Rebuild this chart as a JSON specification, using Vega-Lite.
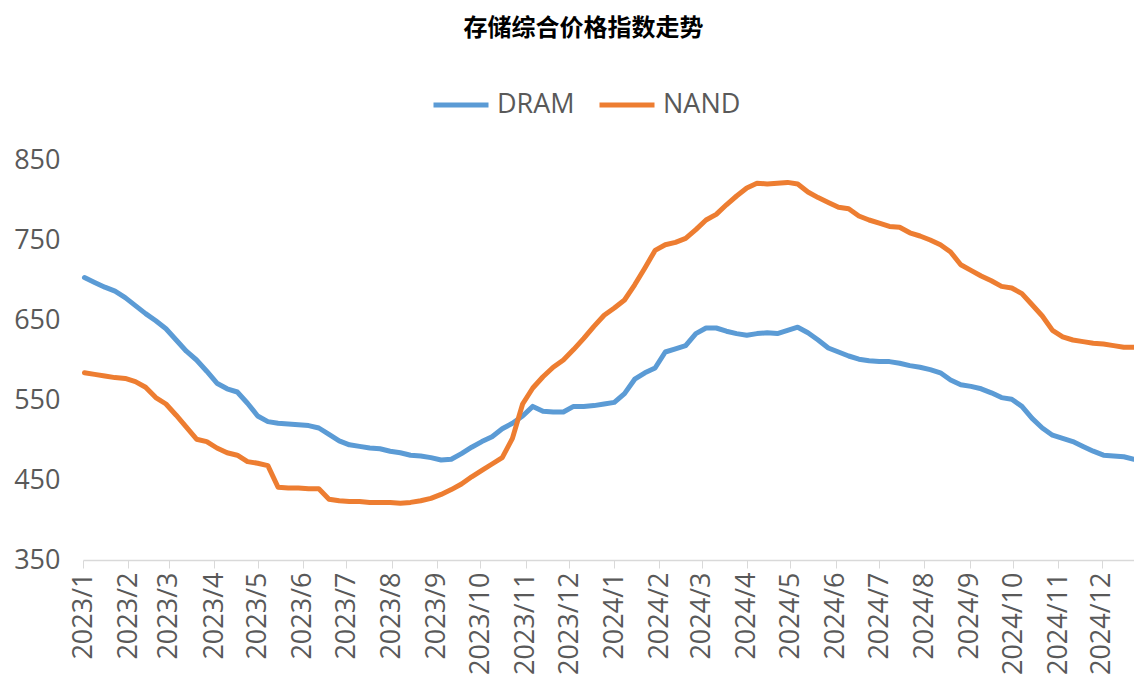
{
  "$schema": "https://vega.github.io/schema/vega-lite/v6.json",
  "autosize": {"type": "none"},
  "width": 1051,
  "height": 400,
  "padding": {"left": 83, "top": 160, "right": 0, "bottom": 120},
  "background": "white",
  "title": {
    "text": "存储综合价格指数走势",
    "font": "Noto Sans CJK SC",
    "fontSize": 24,
    "fontWeight": "bold",
    "color": "#000000",
    "anchor": "middle",
    "frame": "group",
    "dx": -25,
    "offset": 34
  },
  "config": {
    "view": {"stroke": null},
    "font": "Open Sans"
  },
  "data": {
    "values": [
      {"date": "2023-01-02", "DRAM": 703, "NAND": 584},
      {"date": "2023-01-09", "DRAM": 697, "NAND": 582},
      {"date": "2023-01-16", "DRAM": 691, "NAND": 580},
      {"date": "2023-01-23", "DRAM": 686, "NAND": 578},
      {"date": "2023-01-30", "DRAM": 678, "NAND": 577},
      {"date": "2023-02-06", "DRAM": 668, "NAND": 573},
      {"date": "2023-02-13", "DRAM": 658, "NAND": 566},
      {"date": "2023-02-20", "DRAM": 649, "NAND": 553},
      {"date": "2023-02-27", "DRAM": 639, "NAND": 545},
      {"date": "2023-03-06", "DRAM": 625, "NAND": 531},
      {"date": "2023-03-13", "DRAM": 611, "NAND": 516},
      {"date": "2023-03-20", "DRAM": 600, "NAND": 501},
      {"date": "2023-03-27", "DRAM": 586, "NAND": 498},
      {"date": "2023-04-03", "DRAM": 571, "NAND": 490},
      {"date": "2023-04-10", "DRAM": 564, "NAND": 484},
      {"date": "2023-04-17", "DRAM": 560, "NAND": 481},
      {"date": "2023-04-24", "DRAM": 546, "NAND": 473},
      {"date": "2023-05-01", "DRAM": 530, "NAND": 471},
      {"date": "2023-05-08", "DRAM": 523, "NAND": 468},
      {"date": "2023-05-15", "DRAM": 521, "NAND": 441},
      {"date": "2023-05-22", "DRAM": 520, "NAND": 440},
      {"date": "2023-05-29", "DRAM": 519, "NAND": 440},
      {"date": "2023-06-05", "DRAM": 518, "NAND": 439},
      {"date": "2023-06-12", "DRAM": 515, "NAND": 439},
      {"date": "2023-06-19", "DRAM": 507, "NAND": 426},
      {"date": "2023-06-26", "DRAM": 499, "NAND": 424},
      {"date": "2023-07-03", "DRAM": 494, "NAND": 423},
      {"date": "2023-07-10", "DRAM": 492, "NAND": 423},
      {"date": "2023-07-17", "DRAM": 490, "NAND": 422},
      {"date": "2023-07-24", "DRAM": 489, "NAND": 422},
      {"date": "2023-07-31", "DRAM": 486, "NAND": 422},
      {"date": "2023-08-07", "DRAM": 484, "NAND": 421},
      {"date": "2023-08-14", "DRAM": 481, "NAND": 422},
      {"date": "2023-08-21", "DRAM": 480, "NAND": 424},
      {"date": "2023-08-28", "DRAM": 478, "NAND": 427},
      {"date": "2023-09-04", "DRAM": 475, "NAND": 432},
      {"date": "2023-09-11", "DRAM": 476, "NAND": 438},
      {"date": "2023-09-18", "DRAM": 483, "NAND": 445},
      {"date": "2023-09-25", "DRAM": 491, "NAND": 454},
      {"date": "2023-10-02", "DRAM": 498, "NAND": 462},
      {"date": "2023-10-09", "DRAM": 504, "NAND": 470},
      {"date": "2023-10-16", "DRAM": 514, "NAND": 478},
      {"date": "2023-10-23", "DRAM": 521, "NAND": 502},
      {"date": "2023-10-30", "DRAM": 530, "NAND": 545},
      {"date": "2023-11-06", "DRAM": 542, "NAND": 565},
      {"date": "2023-11-13", "DRAM": 536, "NAND": 579},
      {"date": "2023-11-20", "DRAM": 535, "NAND": 591},
      {"date": "2023-11-27", "DRAM": 535, "NAND": 600},
      {"date": "2023-12-04", "DRAM": 542, "NAND": 613},
      {"date": "2023-12-11", "DRAM": 542, "NAND": 627},
      {"date": "2023-12-18", "DRAM": 543, "NAND": 642},
      {"date": "2023-12-25", "DRAM": 545, "NAND": 656},
      {"date": "2024-01-01", "DRAM": 547, "NAND": 665},
      {"date": "2024-01-08", "DRAM": 558, "NAND": 675},
      {"date": "2024-01-15", "DRAM": 576, "NAND": 694},
      {"date": "2024-01-22", "DRAM": 584, "NAND": 715},
      {"date": "2024-01-29", "DRAM": 590, "NAND": 737},
      {"date": "2024-02-05", "DRAM": 610, "NAND": 744},
      {"date": "2024-02-12", "DRAM": 614, "NAND": 747},
      {"date": "2024-02-19", "DRAM": 618, "NAND": 752},
      {"date": "2024-02-26", "DRAM": 633, "NAND": 763},
      {"date": "2024-03-04", "DRAM": 640, "NAND": 775},
      {"date": "2024-03-11", "DRAM": 640, "NAND": 782},
      {"date": "2024-03-18", "DRAM": 636, "NAND": 794},
      {"date": "2024-03-25", "DRAM": 633, "NAND": 805},
      {"date": "2024-04-01", "DRAM": 631, "NAND": 815},
      {"date": "2024-04-08", "DRAM": 633, "NAND": 821},
      {"date": "2024-04-15", "DRAM": 634, "NAND": 820},
      {"date": "2024-04-22", "DRAM": 633, "NAND": 821},
      {"date": "2024-04-29", "DRAM": 637, "NAND": 822},
      {"date": "2024-05-06", "DRAM": 641, "NAND": 820},
      {"date": "2024-05-13", "DRAM": 634, "NAND": 810},
      {"date": "2024-05-20", "DRAM": 625, "NAND": 803},
      {"date": "2024-05-27", "DRAM": 615, "NAND": 797},
      {"date": "2024-06-03", "DRAM": 610, "NAND": 791},
      {"date": "2024-06-10", "DRAM": 605, "NAND": 789},
      {"date": "2024-06-17", "DRAM": 601, "NAND": 780},
      {"date": "2024-06-24", "DRAM": 599, "NAND": 775},
      {"date": "2024-07-01", "DRAM": 598, "NAND": 771},
      {"date": "2024-07-08", "DRAM": 598, "NAND": 767},
      {"date": "2024-07-15", "DRAM": 596, "NAND": 766},
      {"date": "2024-07-22", "DRAM": 593, "NAND": 759},
      {"date": "2024-07-29", "DRAM": 591, "NAND": 755},
      {"date": "2024-08-05", "DRAM": 588, "NAND": 750},
      {"date": "2024-08-12", "DRAM": 584, "NAND": 744},
      {"date": "2024-08-19", "DRAM": 575, "NAND": 735},
      {"date": "2024-08-26", "DRAM": 569, "NAND": 719},
      {"date": "2024-09-02", "DRAM": 567, "NAND": 712},
      {"date": "2024-09-09", "DRAM": 564, "NAND": 705},
      {"date": "2024-09-16", "DRAM": 559, "NAND": 699},
      {"date": "2024-09-23", "DRAM": 553, "NAND": 692},
      {"date": "2024-09-30", "DRAM": 551, "NAND": 690},
      {"date": "2024-10-07", "DRAM": 542, "NAND": 683},
      {"date": "2024-10-14", "DRAM": 527, "NAND": 669},
      {"date": "2024-10-21", "DRAM": 515, "NAND": 655},
      {"date": "2024-10-28", "DRAM": 506, "NAND": 637},
      {"date": "2024-11-04", "DRAM": 502, "NAND": 629},
      {"date": "2024-11-11", "DRAM": 498, "NAND": 625},
      {"date": "2024-11-18", "DRAM": 492, "NAND": 623},
      {"date": "2024-11-25", "DRAM": 486, "NAND": 621},
      {"date": "2024-12-02", "DRAM": 481, "NAND": 620},
      {"date": "2024-12-09", "DRAM": 480, "NAND": 618},
      {"date": "2024-12-16", "DRAM": 479, "NAND": 616},
      {"date": "2024-12-23", "DRAM": 476, "NAND": 616}
    ]
  },
  "transform": [
    {"fold": ["DRAM", "NAND"], "as": ["series", "value"]}
  ],
  "mark": {"type": "line", "strokeWidth": 5, "strokeCap": "round", "strokeJoin": "round"},
  "encoding": {
    "x": {
      "field": "date",
      "type": "temporal",
      "scale": {
        "type": "utc",
        "domain": ["2023-01-01", "2024-12-23"]
      },
      "axis": {
        "title": null,
        "labelExpr": "utcFormat(datum.value, '%Y/%-m')",
        "tickCount": {"interval": "month", "step": 1},
        "grid": false,
        "domainColor": "#D9D9D9",
        "domainWidth": 1.5,
        "tickColor": "#D9D9D9",
        "tickSize": 8,
        "tickWidth": 1,
        "labelAngle": 270,
        "labelAlign": "right",
        "labelBaseline": "middle",
        "labelFontSize": 27,
        "labelColor": "#595959",
        "labelPadding": 4,
        "labelFont": "Open Sans",
        "labelOverlap": false,
        "labelFlush": false
      }
    },
    "y": {
      "field": "value",
      "type": "quantitative",
      "scale": {"domain": [350, 850], "nice": false, "zero": false},
      "axis": {
        "title": null,
        "values": [350, 450, 550, 650, 750, 850],
        "grid": false,
        "domain": false,
        "ticks": false,
        "labelFontSize": 27,
        "labelColor": "#595959",
        "labelPadding": 23,
        "labelFont": "Open Sans"
      }
    },
    "color": {
      "field": "series",
      "type": "nominal",
      "scale": {"domain": ["DRAM", "NAND"], "range": ["#5B9BD5", "#ED7D31"]},
      "legend": {
        "title": null,
        "orient": "none",
        "direction": "horizontal",
        "legendX": 348,
        "legendY": -85,
        "symbolType": "stroke",
        "symbolSize": 3025,
        "symbolStrokeWidth": 5,
        "labelFontSize": 27,
        "labelColor": "#595959",
        "labelFont": "Open Sans",
        "labelOffset": 6,
        "columnPadding": 14
      }
    }
  }
}
